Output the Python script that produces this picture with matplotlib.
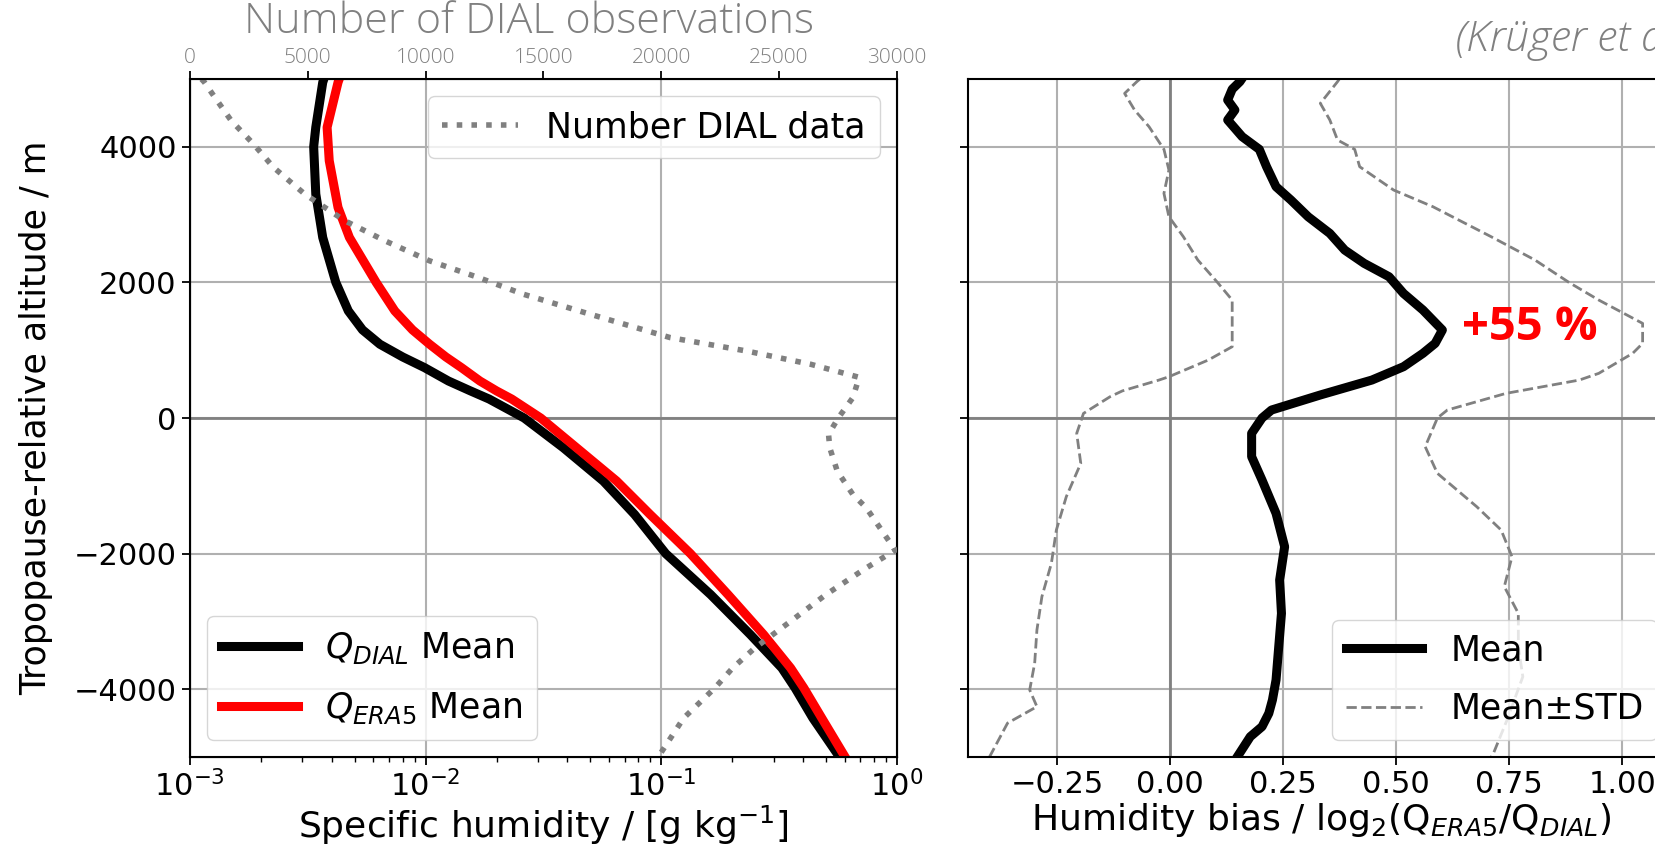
import matplotlib
matplotlib.use("Agg")
import matplotlib.pyplot as plt
from matplotlib import font_manager

# ---------------- data ----------------
alt_dial = [5000, 4950, 4288, 4000, 3304, 2663, 2000, 1580, 1300, 1088, 900, 743, 546, 400,
            280, 0, -438, -930, -1423, -2000, -2604, -3195, -3687, -3983, -4426, -5000]
q_dial = [0.0037, 0.00366, 0.00342, 0.00335, 0.00342, 0.00366, 0.00416, 0.00470, 0.00540,
          0.00640, 0.00800, 0.00990, 0.0125, 0.0155, 0.0186, 0.0262, 0.0384, 0.0568, 0.0771,
          0.1045, 0.162, 0.239, 0.325, 0.370, 0.440, 0.571]

alt_era5 = [5000, 4950, 4288, 3796, 3106, 2663, 2000, 1580, 1300, 1088, 900, 743, 546, 400,
            280, 0, -438, -930, -1423, -2000, -2604, -3195, -3687, -3983, -4426, -5000]
q_era5 = [0.0043, 0.00425, 0.00382, 0.0039, 0.00425, 0.00475, 0.00617, 0.00740, 0.00880,
          0.0104, 0.0122, 0.0142, 0.0170, 0.0200, 0.0232, 0.0308, 0.0437, 0.0647, 0.0897,
          0.133, 0.192, 0.272, 0.354, 0.403, 0.480, 0.603]

alt_count = [5000, 4953, 4781, 4387, 4042, 3697, 3304, 2910, 2614, 2319, 2072, 1827, 1532,
             1186, 990, 793, 600, 300, 0, -241, -438, -783, -1127, -1324, -1950, -2211,
             -2604, -2998, -3392, -3687, -3983, -4426, -5000]
n_obs = [490, 614, 953, 1750, 2695, 3546, 4868, 6572, 8275, 10165, 12245, 14140, 16975,
         20380, 23600, 26340, 28400, 28130, 27510, 27100, 27150, 27470, 28130, 28700, 29930,
         28700, 26990, 25490, 23970, 23030, 22270, 20950, 19870]

alt_bias = [5000, 4961, 4850, 4690, 4543, 4396, 4150, 3963, 3707, 3412, 3215, 2969, 2723,
            2477, 2281, 2084, 1838, 1593, 1298, 1101, 954, 757, 560, 340, 118, 0, -226,
            -570, -915, -1406, -1898, -2389, -2881, -3372, -3864, -4159, -4356, -4552,
            -4700, -5000]
bias_mean = [0.158, 0.154, 0.137, 0.127, 0.143, 0.127, 0.159, 0.197, 0.213, 0.234, 0.267,
             0.305, 0.353, 0.386, 0.429, 0.484, 0.516, 0.559, 0.602, 0.586, 0.559, 0.516,
             0.446, 0.332, 0.224, 0.203, 0.180, 0.180, 0.203, 0.234, 0.253, 0.242, 0.246,
             0.240, 0.234, 0.226, 0.218, 0.203, 0.177, 0.148]

alt_lo = [5000, 4961, 4788, 4543, 4297, 3963, 3658, 3314, 2969, 2674, 2330, 1996, 1740,
          1347, 1052, 855, 609, 560, 400, 315, 68, -226, -669, -1160, -1652, -2143, -2635,
          -3126, -3618, -4011, -4257, -4500, -5000]
bias_lo = [-0.067, -0.074, -0.101, -0.079, -0.047, -0.014, -0.003, -0.014, -0.003, 0.029,
           0.061, 0.105, 0.137, 0.137, 0.137, 0.084, -0.003, -0.025, -0.106, -0.133, -0.192,
           -0.207, -0.198, -0.230, -0.252, -0.263, -0.284, -0.295, -0.300, -0.311, -0.295,
           -0.360, -0.400]

alt_hi = [5000, 4961, 4641, 4396, 4101, 3963, 3707, 3363, 3117, 2969, 2674, 2330, 1996,
          1740, 1396, 1101, 954, 659, 560, 364, 118, 0, -423, -816, -1308, -1652, -2045,
          -2487, -2881, -3372, -3815, -4454, -4946, -5000]
bias_hi = [0.374, 0.370, 0.332, 0.353, 0.370, 0.408, 0.419, 0.494, 0.581, 0.624, 0.710,
           0.807, 0.883, 0.948, 1.045, 1.045, 1.023, 0.948, 0.905, 0.743, 0.613, 0.591,
           0.564, 0.591, 0.678, 0.732, 0.756, 0.739, 0.770, 0.770, 0.780, 0.745, 0.715, 0.710]

yticks = [-4000, -2000, 0, 2000, 4000]
top_ticks = [0, 5000, 10000, 15000, 20000, 25000, 30000]
bias_ticks = [-0.25, 0.00, 0.25, 0.50, 0.75, 1.00]

# ---------------- fonts ----------------
names = {f.name for f in font_manager.fontManager.ttflist}
light = "Open Sans" if "Open Sans" in names else ("Lato" if "Lato" in names else "DejaVu Sans")

plt.rcParams["font.family"] = ["DejaVu Sans"]
plt.rcParams["mathtext.fontset"] = "dejavusans"

FS = 22      # tick labels
LFS = 25     # legends
GRAY = "#808080"

fig = plt.figure(figsize=(16.56, 8.48), dpi=100)
ax1 = fig.add_axes([0.1147, 0.1073, 0.4269, 0.7995])
ax2 = fig.add_axes([0.5844, 0.1073, 0.4269, 0.7995])

for ax in (ax1, ax2):
    for s in ax.spines.values():
        s.set_linewidth(1.5)
    ax.tick_params(axis="both", which="major", labelsize=FS, length=6, width=1.3)
    ax.tick_params(axis="both", which="minor", length=3.5, width=1.0)
    ax.grid(True, which="major", color="#b0b0b0", lw=1.5)
    ax.set_axisbelow(True)

# ---- left panel ----
ax1.set_xscale("log")
ax1.plot(q_dial, alt_dial, color="black", lw=6.5, label=r"$Q_{DIAL}$ Mean")
ax1.plot(q_era5, alt_era5, color="red", lw=6.5, label=r"$Q_{ERA5}$ Mean")
ax1.axhline(0, color="gray", lw=2, zorder=1.5)
ax1.set_yticks(yticks)
ax1.set_xlim(1e-3, 1)
ax1.set_ylim(-5000, 5000)
ax1.set_xlabel(r"Specific humidity / [g kg$^{-1}$]", fontsize=26, labelpad=1)
ax1.set_ylabel("Tropopause-relative altitude / m", fontsize=25, labelpad=15)
ax1.legend(loc="lower left", fontsize=LFS, handlelength=2.2, labelspacing=0.7)

axt = ax1.twiny()
axt.plot(n_obs, alt_count, color=GRAY, lw=4, ls=":", label="Number DIAL data")
axt.set_xticks(top_ticks)
axt.set_xlim(0, 30000)
axt.set_ylim(-5000, 5000)
axt.tick_params(axis="x", labelsize=15, labelcolor=GRAY, length=6, width=1.3, pad=2)
for lab in axt.get_xticklabels():
    lab.set_fontfamily(light)
    lab.set_fontweight("light")
axt.legend(loc="upper right", fontsize=LFS, handlelength=2.2)

fig.text(0.3195, 0.961, "Number of DIAL observations", fontsize=31, color=GRAY,
         fontfamily=light, fontweight="light", ha="center", va="baseline")

# ---- right panel ----
ax2.plot(bias_mean, alt_bias, color="black", lw=6.5, label="Mean")
ax2.plot(bias_lo, alt_lo, color=GRAY, lw=2, ls="--", label="Mean\u00b1STD")
ax2.plot(bias_hi, alt_hi, color=GRAY, lw=2, ls="--")
ax2.axhline(0, color="gray", lw=2, zorder=1.5)
ax2.axvline(0, color="gray", lw=2, zorder=1.5)
ax2.set_yticks(yticks)
ax2.set_yticklabels([])
ax2.set_xticks(bias_ticks)
ax2.set_xticklabels([f"{t:.2f}".replace("-", "\u2212") for t in bias_ticks])
ax2.set_xlim(-0.448, 1.116)
ax2.set_ylim(-5000, 5000)
ax2.set_xlabel(r"Humidity bias / log$_2$(Q$_{ERA5}$/Q$_{DIAL}$)", fontsize=26, labelpad=1)
ax2.legend(loc="lower right", fontsize=LFS, handlelength=2.2, labelspacing=0.7)

ax2.text(0.645, 1340, "+55 %", color="red", fontsize=34, fontweight="bold",
         fontfamily=["Open Sans", "DejaVu Sans"], ha="left", va="center")

fig.text(0.8788, 0.953, "(Krüger et al., 2022)", color=GRAY, fontsize=31,
         fontstyle="italic", fontweight="light", fontfamily=light, ha="left", va="center")

fig.savefig("out.png", dpi=100)
